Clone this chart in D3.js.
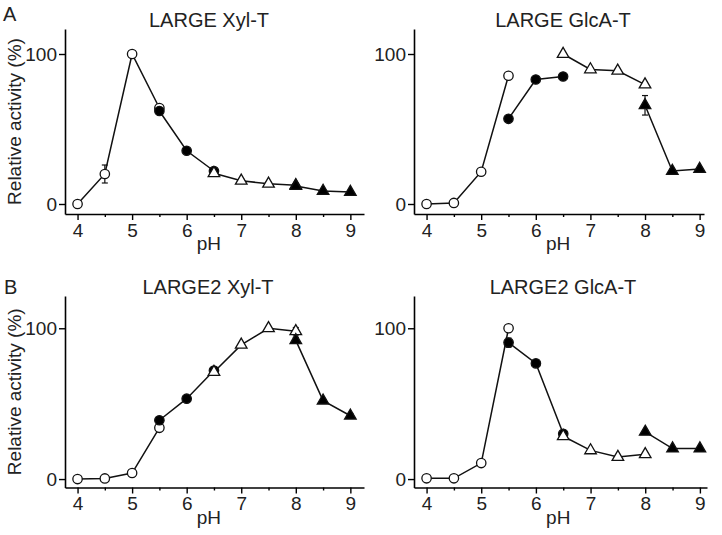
<!DOCTYPE html>
<html>
<head>
<meta charset="utf-8">
<script src="https://cdn.jsdelivr.net/npm/d3@7"></script>
<style>
  html, body { margin: 0; padding: 0; background: #fff; }
  svg { display: block; font-family: "Liberation Sans", Arial, sans-serif; }
</style>
</head>
<body>
<svg id="chart" width="722" height="535"></svg>
<script>
// ---- pH values of the four buffer series ----
const phOpenCircle    = [4, 4.5, 5, 5.5];
const phFilledCircle  = [5.5, 6, 6.5];
const phOpenTriangle  = [6.5, 7, 7.5, 8];
const phFilledTriangle = [8, 8.5, 9];

const xTickValues = [4, 5, 6, 7, 8, 9];
const xMinorTicks = [4.5, 5.5, 6.5, 7.5, 8.5];
const yTickValues = [0, 100];

// ---- LARGE Xyl-T ----
const largeXyl_openCircle    = [0, 20, 100, 64];
const largeXyl_openCircleErr = [0, 6, 0, 1];
const largeXyl_filledCircle    = [62, 35.5, 22];
const largeXyl_filledCircleErr = [1.5, 1, 1];
const largeXyl_openTriangle    = [20.5, 15.5, 13.5, 12.5];
const largeXyl_openTriangleErr = [1, 1, 1, 1];
const largeXyl_filledTriangle    = [12, 8.7, 8];
const largeXyl_filledTriangleErr = [1, 0.8, 0.5];

// ---- LARGE GlcA-T ----
const largeGlcA_openCircle    = [0, 0.7, 21.5, 85.5];
const largeGlcA_openCircleErr = [0, 0, 1, 1.5];
const largeGlcA_filledCircle    = [56.8, 83, 85];
const largeGlcA_filledCircleErr = [1, 1, 1];
const largeGlcA_openTriangle    = [100, 89.7, 88.8, 79.6];
const largeGlcA_openTriangleErr = [0, 1, 1, 1.5];
const largeGlcA_filledTriangle    = [65.8, 22, 23.3];
const largeGlcA_filledTriangleErr = [6.5, 1, 1];

// ---- LARGE2 Xyl-T ----
const large2Xyl_openCircle    = [0, 0.4, 4, 34];
const large2Xyl_openCircleErr = [0, 0, 0.5, 1];
const large2Xyl_filledCircle    = [39, 53.3, 72];
const large2Xyl_filledCircleErr = [1, 1, 1];
const large2Xyl_openTriangle    = [71, 89, 100, 98];
const large2Xyl_openTriangleErr = [1, 1.5, 0, 2.5];
const large2Xyl_filledTriangle    = [92, 52, 42];
const large2Xyl_filledTriangleErr = [2, 1, 1.5];

// ---- LARGE2 GlcA-T ----
const large2GlcA_openCircle    = [0.5, 0.5, 10.6, 100];
const large2GlcA_openCircleErr = [0, 0, 1, 0];
const large2GlcA_filledCircle    = [90.5, 76.7, 30];
const large2GlcA_filledCircleErr = [3, 1, 1];
const large2GlcA_openTriangle    = [28.4, 19, 14.6, 16.4];
const large2GlcA_openTriangleErr = [1, 1, 1, 1];
const large2GlcA_filledTriangle    = [31.3, 20.2, 20.2];
const large2GlcA_filledTriangleErr = [1, 1, 1];

const panelTitles = ["LARGE Xyl-T", "LARGE GlcA-T", "LARGE2 Xyl-T", "LARGE2 GlcA-T"];
const panelLetters = ["A", "B"];
const yAxisLabel = "Relative activity (%)";
const xAxisLabel = "pH";

// ---- build ----
function mk(ph, v, e) { return ph.map((p, i) => ({ph: p, v: v[i], e: e[i]})); }
function seriesOf(oc, oce, fc, fce, ot, ote, ft, fte) {
  return [
    {shape: "circle", fill: "#fff", pts: mk(phOpenCircle, oc, oce)},
    {shape: "circle", fill: "#000", pts: mk(phFilledCircle, fc, fce)},
    {shape: "triangle", fill: "#fff", pts: mk(phOpenTriangle, ot, ote)},
    {shape: "triangle", fill: "#000", pts: mk(phFilledTriangle, ft, fte)}
  ];
}

const panels = [
  {title: panelTitles[0], titleX: 209, titleY: 27, xDom: [3.77, 9.25], xRange: [65, 364], yDom: [-6.67, 116.67], yRange: [214, 29], left: true,
   series: seriesOf(largeXyl_openCircle, largeXyl_openCircleErr, largeXyl_filledCircle, largeXyl_filledCircleErr, largeXyl_openTriangle, largeXyl_openTriangleErr, largeXyl_filledTriangle, largeXyl_filledTriangleErr)},
  {title: panelTitles[1], titleX: 563, titleY: 27, xDom: [3.77, 9.08], xRange: [414, 704], yDom: [-6.67, 116.67], yRange: [214, 29], left: false,
   series: seriesOf(largeGlcA_openCircle, largeGlcA_openCircleErr, largeGlcA_filledCircle, largeGlcA_filledCircleErr, largeGlcA_openTriangle, largeGlcA_openTriangleErr, largeGlcA_filledTriangle, largeGlcA_filledTriangleErr)},
  {title: panelTitles[2], titleX: 208, titleY: 294, xDom: [3.77, 9.25], xRange: [65, 364], yDom: [-5.6, 121.4], yRange: [487.5, 296], left: true,
   series: seriesOf(large2Xyl_openCircle, large2Xyl_openCircleErr, large2Xyl_filledCircle, large2Xyl_filledCircleErr, large2Xyl_openTriangle, large2Xyl_openTriangleErr, large2Xyl_filledTriangle, large2Xyl_filledTriangleErr)},
  {title: panelTitles[3], titleX: 563, titleY: 294, xDom: [3.77, 9.13], xRange: [414, 707], yDom: [-5.6, 121.4], yRange: [487.5, 296], left: false,
   series: seriesOf(large2GlcA_openCircle, large2GlcA_openCircleErr, large2GlcA_filledCircle, large2GlcA_filledCircleErr, large2GlcA_openTriangle, large2GlcA_openTriangleErr, large2GlcA_filledTriangle, large2GlcA_filledTriangleErr)}
];

const svg = d3.select("#chart");
const triPath = d3.symbol().type(d3.symbolTriangle).size(58)();

panels.forEach(p => {
  const x = d3.scaleLinear().domain(p.xDom).range(p.xRange);
  const y = d3.scaleLinear().domain(p.yDom).range(p.yRange);
  const g = svg.append("g");
  const axX = p.xRange[0], axY = p.yRange[0];

  // y axis
  g.append("g").attr("transform", `translate(${axX},0)`)
    .call(d3.axisLeft(y).tickValues(yTickValues).tickFormat(d3.format("d")).tickSize(6).tickSizeOuter(0).tickPadding(2));
  // x axis
  g.append("g").attr("transform", `translate(0,${axY})`)
    .call(d3.axisBottom(x).tickValues(xTickValues).tickFormat(d3.format("d")).tickSize(6).tickSizeOuter(0).tickPadding(3.5));
  // minor x ticks
  g.append("g").attr("transform", `translate(0,${axY})`)
    .call(d3.axisBottom(x).tickValues(xMinorTicks).tickSize(3).tickSizeOuter(0).tickFormat(""))
    .call(s => s.select(".domain").remove());

  g.selectAll(".domain").attr("stroke", "#000").attr("stroke-width", 1.6);
  g.selectAll(".tick line").attr("stroke", "#000").attr("stroke-width", 1.4);
  g.selectAll(".tick text").attr("fill", "#222").style("font-size", "19px")
    .style("font-family", '"Liberation Sans", Arial, sans-serif');

  // title
  g.append("text").attr("x", p.titleX).attr("y", p.titleY).attr("text-anchor", "middle")
    .style("font-size", "20px").attr("fill", "#222").text(p.title);
  // x label
  g.append("text").attr("x", x(6.5) - 5).attr("y", axY + 36).attr("text-anchor", "middle")
    .style("font-size", "19px").attr("fill", "#222").text(xAxisLabel);
  // y label
  if (p.left) {
    const cy = (p.yRange[0] + p.yRange[1]) / 2;
    g.append("text").attr("transform", `translate(21,${cy}) rotate(-90)`).attr("text-anchor", "middle")
      .style("font-size", "19px").attr("fill", "#222").text(yAxisLabel);
  }

  // lines
  const line = d3.line().x(d => x(d.ph)).y(d => y(d.v));
  p.series.forEach(s => {
    g.append("path").datum(s.pts).attr("d", line).attr("fill", "none")
      .attr("stroke", "#111").attr("stroke-width", 1.5);
  });
  // error bars
  p.series.forEach(s => {
    s.pts.filter(d => d.e > 0).forEach(d => {
      const cx = x(d.ph);
      g.append("line").attr("x1", cx).attr("x2", cx).attr("y1", y(d.v - d.e)).attr("y2", y(d.v + d.e))
        .attr("stroke", "#111").attr("stroke-width", 1.2);
      [d.v - d.e, d.v + d.e].forEach(v => {
        g.append("line").attr("x1", cx - 3).attr("x2", cx + 3).attr("y1", y(v)).attr("y2", y(v))
          .attr("stroke", "#111").attr("stroke-width", 1.2);
      });
    });
  });
  // markers
  p.series.forEach(s => {
    s.pts.forEach(d => {
      if (s.shape === "circle") {
        g.append("circle").attr("cx", x(d.ph)).attr("cy", y(d.v)).attr("r", 4.7)
          .attr("fill", s.fill).attr("stroke", "#111").attr("stroke-width", 1.3);
      } else {
        g.append("path").attr("d", triPath).attr("transform", `translate(${x(d.ph)},${y(d.v)})`)
          .attr("fill", s.fill).attr("stroke", "#111").attr("stroke-width", 1.3);
      }
    });
  });
});

// panel letters
svg.append("text").attr("x", 3).attr("y", 21).style("font-size", "20px").attr("fill", "#222").text(panelLetters[0]);
svg.append("text").attr("x", 4).attr("y", 294).style("font-size", "20px").attr("fill", "#222").text(panelLetters[1]);
</script>
</body>
</html>
